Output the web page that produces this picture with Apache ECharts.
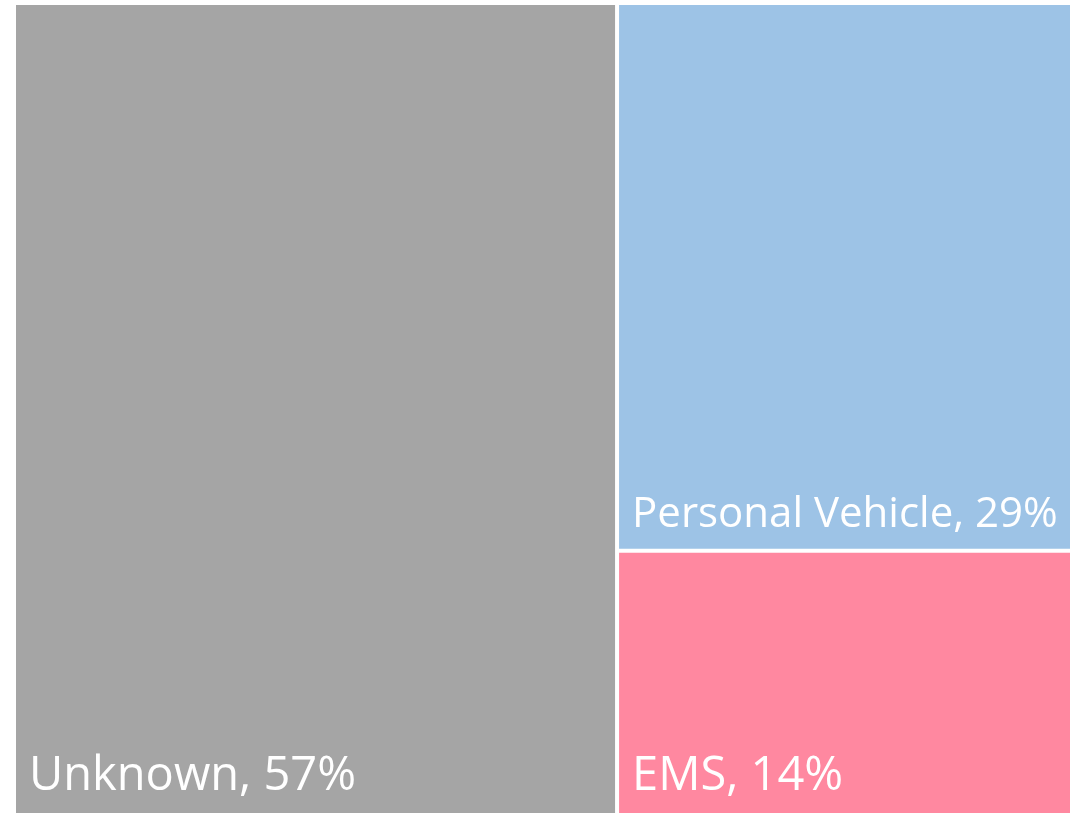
<!DOCTYPE html>
<html>
<head>
<meta charset="utf-8">
<script src="https://cdn.jsdelivr.net/npm/echarts@6/dist/echarts.min.js"></script>
<style>
  html, body { margin: 0; padding: 0; background: #fff; }
  #main { width: 1082px; height: 813px; }
</style>
</head>
<body>
<div id="main"></div>
<script>
// 数据
const categories = ['Unknown', 'Personal Vehicle', 'EMS']
const shares = [57, 29, 14]
// 样式
const colors = ['#a5a5a5', '#9dc3e6', '#ff88a0']
const labelSizes = [47, 42, 47]

const chart = echarts.init(document.getElementById('main'), null, { renderer: 'canvas' })

const treeData = categories.map((name, i) => ({
  name: name,
  value: shares[i],
  itemStyle: { color: colors[i] },
  label: { fontSize: labelSizes[i] }
}))

let option = {
  animation: false,
  series: [{
    type: 'treemap',
    left: 16,
    top: 5,
    width: 1054,
    height: 808,
    roam: false,
    nodeClick: false,
    breadcrumb: { show: false },
    squareRatio: 1,
    itemStyle: {
      borderWidth: 0,
      gapWidth: 4
    },
    levels: [{
      itemStyle: { borderWidth: 0, gapWidth: 4 }
    }],
    label: {
      show: true,
      position: 'insideBottomLeft',
      distance: 8,
      color: '#fff',
      fontFamily: 'Open Sans',
      fontSize: 42,
      formatter: p => p.name + ', ' + p.value + '%'
    },
    data: treeData
  }]
}

chart.setOption(option)
</script>
</body>
</html>
